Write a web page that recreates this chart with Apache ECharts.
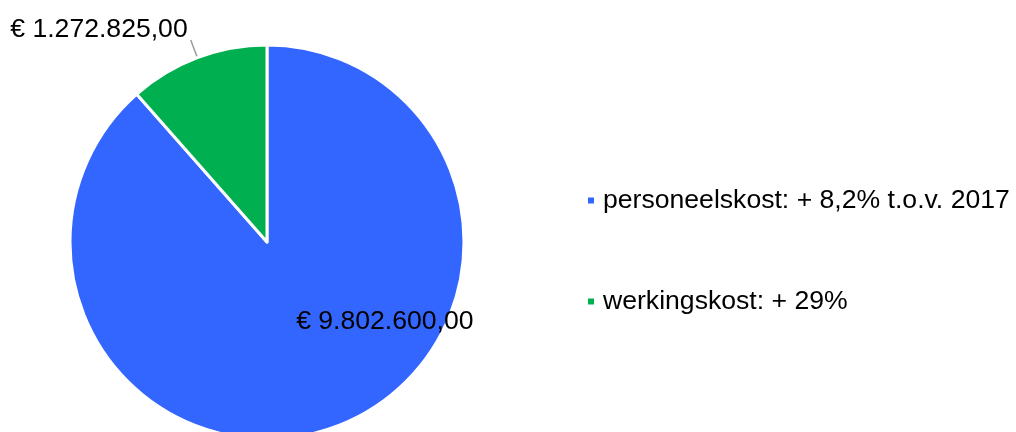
<!DOCTYPE html>
<html>
<head>
<meta charset="utf-8">
<script src="https://cdn.jsdelivr.net/npm/echarts@6/dist/echarts.min.js"></script>
<style>
  html, body { margin: 0; padding: 0; background: #fff; }
  #chart { width: 1016px; height: 432px; }
</style>
</head>
<body>
<div id="chart"></div>
<script>
var categories = ['personeelskost: + 8,2% t.o.v. 2017', 'werkingskost: + 29%'];
var values = [9802600, 1272825];
var colors = ['#3366FF', '#00B050'];

function euro(v) {
    var parts = v.toFixed(2).split('.');
    var intPart = parts[0].replace(/\B(?=(\d{3})+(?!\d))/g, '.');
    return '€ ' + intPart + ',' + parts[1];
}

var chart = echarts.init(document.getElementById('chart'));
var option = {
    animation: false,
    legend: {
        orient: 'vertical',
        left: 586,
        top: 187,
        padding: 0,
        itemWidth: 8,
        itemHeight: 8,
        itemGap: 74,
        icon: 'rect',
        textStyle: {
            fontFamily: 'Liberation Sans, Arial',
            fontSize: 26.6,
            color: '#000',
            lineHeight: 26,
            padding: [0, 0, 0, 3]
        },
        data: categories
    },
    series: [{
        type: 'pie',
        center: [267, 242],
        radius: 197,
        startAngle: 90,
        clockwise: true,
        itemStyle: {
            borderColor: '#fff',
            borderWidth: 3
        },
        label: {
            fontFamily: 'Liberation Sans, Arial',
            fontSize: 26.6,
            color: '#000',
            formatter: function (p) { return euro(p.value); }
        },
        labelLine: {
            lineStyle: { color: '#999', width: 1.5 }
        },
        labelLayout: function (p) {
            if (p.dataIndex === 0) return { dx: 82, dy: -15 };
            return { dy: -10 };
        },
        data: categories.map(function (c, i) {
            var d = { name: c, value: values[i], itemStyle: { color: colors[i] } };
            if (i === 0) {
                d.label = { position: 'inside' };
                d.labelLine = { show: false };
            } else {
                d.label = { position: 'outside', distanceToLabelLine: 3 };
                d.labelLine = { show: true, length: 19, length2: 0 };
            }
            return d;
        })
    }]
};
chart.setOption(option);
</script>
</body>
</html>
